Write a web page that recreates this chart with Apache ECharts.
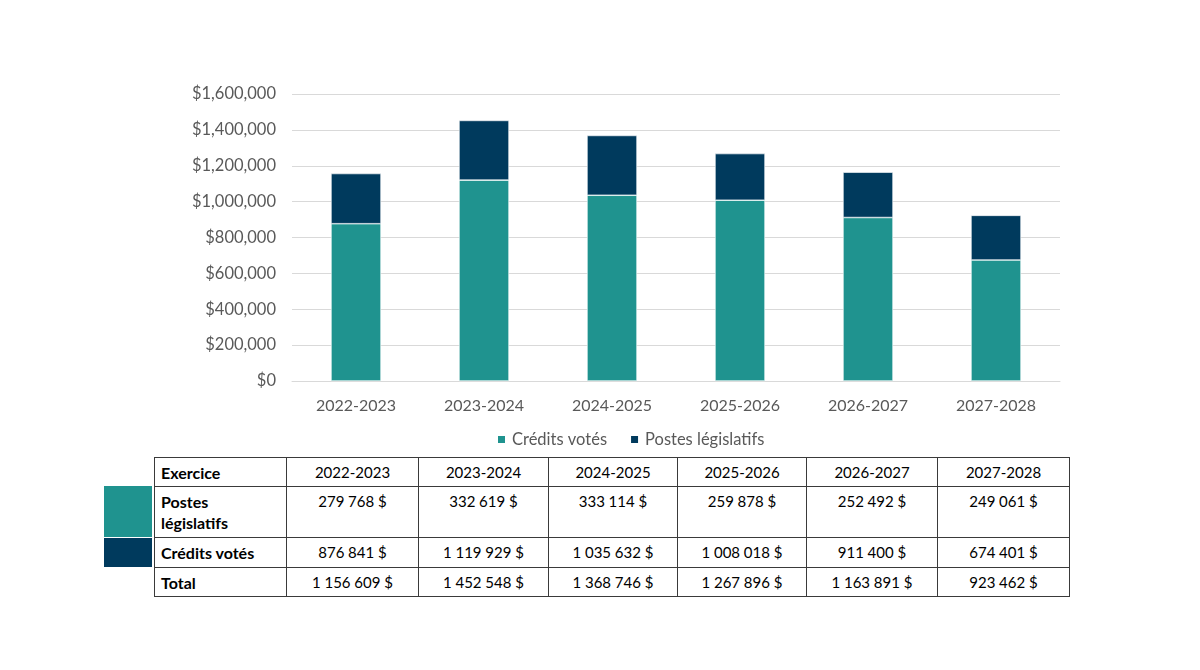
<!DOCTYPE html>
<html>
<head>
<meta charset="utf-8">
<script src="https://cdn.jsdelivr.net/npm/echarts@6/dist/echarts.min.js"></script>
<style>
  html, body { margin:0; padding:0; background:#fff; }
  #wrap { position:relative; width:1200px; height:670px; }
  #chart { position:absolute; left:0; top:0; width:1200px; height:450px; }
  #tbl { position:absolute; left:154px; top:457px; border-collapse:collapse; font-family:Lato, "Noto Sans", sans-serif; font-size:15px; color:#000; }
  #tbl td { border:1px solid #3a3a3a; padding:0 6px; box-sizing:border-box; text-align:center; vertical-align:top; }
  #tbl td.lab { text-align:left; font-weight:bold; font-size:16px; }
  .sw { position:absolute; left:104px; width:48px; }
</style>
</head>
<body>
<div id="wrap">
  <div id="chart"></div>
  <div class="sw" style="top:486px;height:51px;background:#1F938F;"></div>
  <div class="sw" style="top:538px;height:29px;background:#003A5D;"></div>
  <table id="tbl"></table>
</div>
<script>
const categories = ['2022-2023','2023-2024','2024-2025','2025-2026','2026-2027','2027-2028'];
const creditsVotes = [876841, 1119929, 1035632, 1008018, 911400, 674401];
const postesLegislatifs = [279768, 332619, 333114, 259878, 252492, 249061];
const totals = [1156609, 1452548, 1368746, 1267896, 1163891, 923462];
const yTicks = [0, 200000, 400000, 600000, 800000, 1000000, 1200000, 1400000, 1600000];

const font = 'Lato, "Noto Sans", sans-serif';
const chart = echarts.init(document.getElementById('chart'));
chart.setOption({
  animation: false,
  grid: { left: 292, right: 140, top: 94, bottom: 69 },
  legend: {
    data: ['Crédits votés', 'Postes législatifs'],
    top: 426, left: 491,
    itemWidth: 9, itemHeight: 9, itemGap: 22,
    icon: 'rect',
    textStyle: { fontFamily: font, fontSize: 16.5, color: '#595959', padding: [0, 0, 0, 1] }
  },
  xAxis: {
    type: 'category', data: categories,
    axisLine: { lineStyle: { color: '#d9d9d9', width: 1 } },
    axisTick: { show: false },
    axisLabel: { fontFamily: font, fontSize: 16, color: '#595959', margin: 17 }
  },
  yAxis: {
    type: 'value', min: yTicks[0], max: yTicks[yTicks.length-1], interval: 200000,
    axisLine: { show: false }, axisTick: { show: false },
    splitLine: { lineStyle: { color: '#d9d9d9', width: 1 } },
    axisLabel: {
      fontFamily: font, fontSize: 16.5, color: '#595959', margin: 16,
      formatter: v => '$' + v.toLocaleString('en-US')
    }
  },
  series: [
    { name: 'Crédits votés', type: 'bar', stack: 'total', data: creditsVotes, barWidth: 50,
      itemStyle: { color: '#1F938F', borderColor: '#ffffff', borderWidth: 0.6 } },
    { name: 'Postes législatifs', type: 'bar', stack: 'total', data: postesLegislatifs, barWidth: 50,
      itemStyle: { color: '#003A5D', borderColor: '#ffffff', borderWidth: 0.6 } }
  ]
});

const fmt = v => v.toLocaleString('en-US').replace(/,/g, '\u202F') + '\u00A0$';
const colW = [132, 132, 130, 129, 129, 131, 132];
const rows = [
  { label: 'Exercice', vals: categories, h: 29 },
  { label: 'Postes<br>législatifs', vals: postesLegislatifs.map(fmt), h: 51 },
  { label: 'Crédits votés', vals: creditsVotes.map(fmt), h: 30 },
  { label: 'Total', vals: totals.map(fmt), h: 29 }
];
const tbl = document.getElementById('tbl');
let html = '';
rows.forEach(r => {
  html += '<tr style="height:' + r.h + 'px">';
  html += '<td class="lab" style="width:' + colW[0] + 'px;padding-top:4px;line-height:21px">' + r.label + '</td>';
  r.vals.forEach((v, i) => {
    html += '<td style="width:' + colW[i+1] + 'px;padding-top:4px;line-height:21px">' + v + '</td>';
  });
  html += '</tr>';
});
tbl.innerHTML = html;
</script>
</body>
</html>
